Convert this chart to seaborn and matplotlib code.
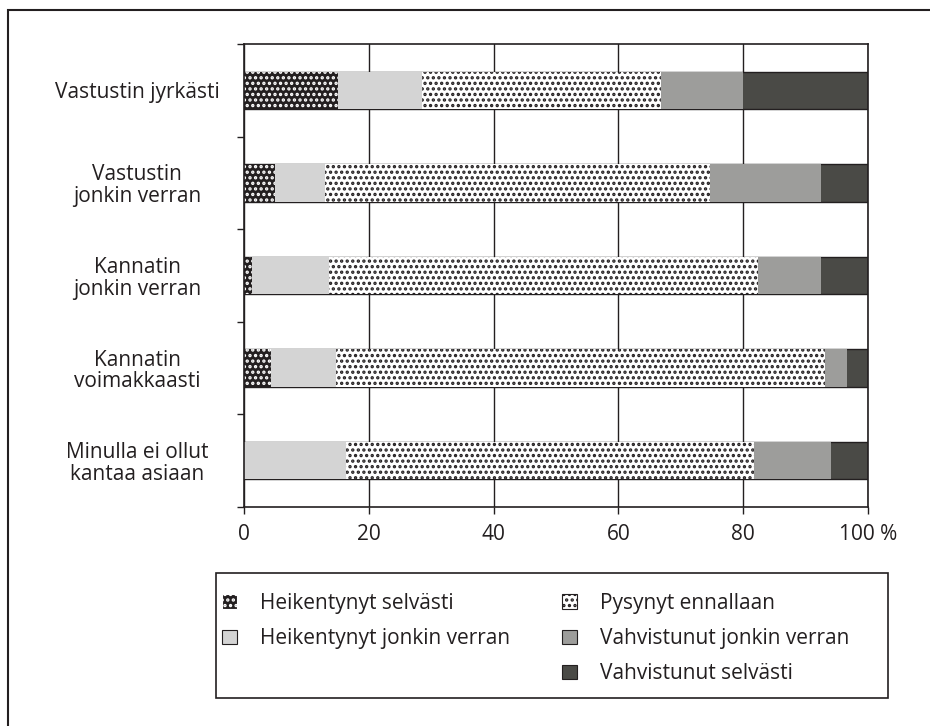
import numpy as np
import pandas as pd
import matplotlib.pyplot as plt
import matplotlib.patches as mpatches
import seaborn as sns

# Data (% of respondents)
categories = [
    "Vastustin jyrkästi",
    "Vastustin\njonkin verran",
    "Kannatin\njonkin verran",
    "Kannatin\nvoimakkaasti",
    "Minulla ei ollut\nkantaa asiaan",
]
heik_selv = [15.1, 5.0, 1.3, 4.4, 0.0]
heik_jonk = [13.4, 8.0, 12.3, 10.3, 16.4]
pysynyt = [38.4, 61.6, 68.7, 78.4, 65.4]
vahv_jonk = [13.0, 17.9, 10.2, 3.6, 12.3]
vahv_selv = [20.1, 7.5, 7.5, 3.3, 5.9]

series_labels = [
    "Heikentynyt selvästi",
    "Heikentynyt jonkin verran",
    "Pysynyt ennallaan",
    "Vahvistunut jonkin verran",
    "Vahvistunut selvästi",
]
x_ticks = [0, 20, 40, 60, 80, 100]
x_ticklabels = ["0", "20", "40", "60", "80", "100 %"]

ink = "#231f20"
# face, edge/hatch colour, hatch, linewidth
styles = [
    ("#231f20", "white", "...", 0),
    ("#d4d4d4", ink, None, 0),
    ("white", ink, "...", 0),
    ("#9d9d9b", ink, None, 0),
    ("#4a4a46", ink, None, 1.0),
]

df = pd.DataFrame(
    {
        "kategoria": categories,
        "s0": heik_selv,
        "s1": heik_jonk,
        "s2": pysynyt,
        "s3": vahv_jonk,
        "s4": vahv_selv,
    }
)
cols = ["s0", "s1", "s2", "s3", "s4"]
cum = df[cols].cumsum(axis=1)
cum["kategoria"] = categories

sns.set_theme(style="white")
plt.rcParams["font.family"] = ["Open Sans", "DejaVu Sans"]
plt.rcParams["font.size"] = 15
plt.rcParams["text.color"] = ink
plt.rcParams["xtick.color"] = ink
plt.rcParams["ytick.color"] = ink
plt.rcParams["hatch.linewidth"] = 1.6

fig = plt.figure(figsize=(9.3, 7.26), dpi=100)
ax = fig.add_axes([244 / 930, 1 - 507 / 726, (868 - 244) / 930, (507 - 44) / 726])

# stacked bars: draw cumulative totals from the right-most series backwards
for col, (fc, ec, hatch, lw) in reversed(list(zip(cols, styles))):
    sns.barplot(
        data=cum,
        x=col,
        y="kategoria",
        orient="h",
        width=0.405,
        color=fc,
        saturation=1,
        errorbar=None,
        edgecolor=ec,
        hatch=hatch,
        linewidth=lw,
        ax=ax,
        zorder=2,
    )

ax.set_xlim(0, 100)
ax.set_ylim(4.5, -0.5)
ax.set_xlabel("")
ax.set_ylabel("")
ax.set_xticks(x_ticks)
ax.set_xticklabels(x_ticklabels, fontsize=15)
ax.xaxis.grid(True, color=ink, linewidth=1.0)
ax.yaxis.grid(False)
ax.set_axisbelow(True)
for sp in ax.spines.values():
    sp.set_visible(True)
    sp.set_color(ink)
    sp.set_linewidth(1.2)

ax.tick_params(axis="x", bottom=True, length=5, width=1, direction="out", pad=7)
ax.tick_params(axis="y", which="major", left=False, length=0, pad=77, labelsize=15)
ax.set_yticks(np.arange(-0.5, 5, 1), minor=True)
ax.tick_params(axis="y", which="minor", left=True, length=5, width=1, direction="out")
for lab in ax.get_yticklabels():
    lab.set_ha("center")
    lab.set_multialignment("center")
    lab.set_linespacing(1.05)

# legend in two separate columns inside a framed box
handles = [
    mpatches.Patch(facecolor=fc, edgecolor=(ink if fc != "#231f20" else "white"),
                   hatch=hatch, linewidth=0.8, label=lab)
    for (fc, ec, hatch, lw), lab in zip(styles, series_labels)
]

leg_kw = dict(
    frameon=False,
    loc="upper left",
    borderpad=0,
    borderaxespad=0,
    fontsize=15,
    handlelength=0.7,
    handleheight=0.7,
    handletextpad=1.1,
    labelspacing=0.68,
)
fig.legend(handles=handles[:2], bbox_to_anchor=(222 / 930, 1 - 593 / 726), **leg_kw)
fig.legend(handles=handles[2:], bbox_to_anchor=(562 / 930, 1 - 593 / 726), **leg_kw)

fig.add_artist(
    mpatches.Rectangle(
        (216 / 930, 1 - 698 / 726), (888 - 216) / 930, (698 - 573) / 726,
        transform=fig.transFigure, fill=False, edgecolor=ink, linewidth=1.2,
    )
)
# outer frame of the figure panel
fig.add_artist(
    mpatches.Rectangle(
        (8 / 930, -0.2), 1.5, 1.2 - 10 / 726,
        transform=fig.transFigure, fill=False, edgecolor=ink, linewidth=1.5,
    )
)

fig.savefig("out.png", dpi=100)
